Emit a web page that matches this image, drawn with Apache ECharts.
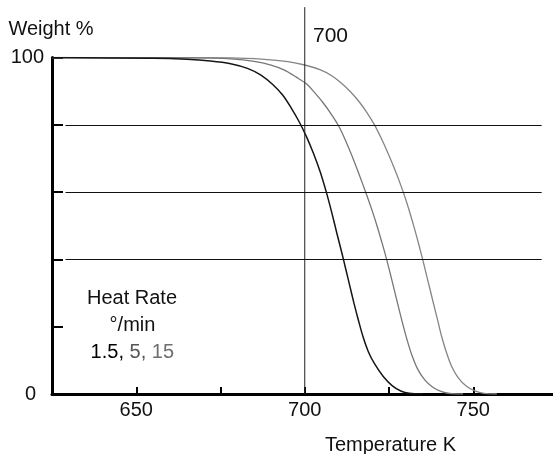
<!DOCTYPE html>
<html><head><meta charset="utf-8">
<script src="https://cdn.jsdelivr.net/npm/echarts@6/dist/echarts.min.js"></script>
<style>html,body{margin:0;padding:0;background:#fff}#c{width:553px;height:454px}</style>
</head><body><div id="c"></div>
<script>
// Heating rates (°/min)
const rateLabels = ['1.5', '5', '15'];
// Curve at 1.5 °/min
const temp1 = [625, 655, 665, 672, 678, 683, 687, 690.5, 693.5, 696, 698.3, 700.5, 702.6, 704.6, 706.4, 708, 709.6, 711, 712.2, 713.4, 714.6, 715.9, 717.3, 718.9, 720.7, 723.3, 726, 728.5, 731, 735];
const weight1 = [100, 99.8, 99.5, 99, 98.2, 96.8, 94.8, 92, 88.8, 85, 81, 76.5, 71.5, 66, 60, 54, 47.5, 42, 37, 32, 27, 22, 17, 12.5, 9, 5.2, 2.4, 0.9, 0.2, 0];
// Curve at 5 °/min
const temp2 = [625, 668, 678, 685, 690, 694, 697.5, 700.5, 703, 705.5, 708, 710, 712, 714, 716, 718, 720, 721.5, 723, 724.2, 725.3, 726.4, 727.6, 728.9, 730.3, 731.8, 733.5, 735.6, 738, 740.4, 743, 747];
const weight2 = [100, 99.9, 99.6, 98.9, 97.8, 96.3, 94.2, 92.2, 89.5, 86.5, 83, 79.8, 75.6, 70.8, 65.6, 60.2, 54.5, 49.8, 44.7, 40.4, 36.1, 31.6, 26.7, 21.5, 16.3, 11.5, 7.4, 4.2, 2, 0.8, 0.15, 0];
// Curve at 15 °/min
const temp3 = [625, 678, 688, 695, 700, 704.5, 708, 711, 713.7, 716.2, 718.5, 720.7, 722.7, 724.7, 726.7, 728.7, 730.4, 731.9, 733.3, 734.6, 735.8, 737, 738.2, 739.4, 740.7, 742.1, 743.6, 745.5, 748, 750.5, 753.2, 757];
const weight3 = [100, 99.9, 99.5, 98.8, 97.8, 96.4, 94.6, 92.3, 89.7, 86.8, 83.6, 80, 76, 71.6, 66.8, 61.5, 56.5, 51.5, 46.5, 41.5, 36.7, 31.8, 26.9, 22.1, 16.8, 12.2, 8.2, 4.9, 2.3, 0.9, 0.2, 0];
// Axis tick labels
const xLabelValues = [650, 700, 750];
const yLabelValues = [0, 100];
const gridValues = [80, 60, 40];
const markerTemp = 700;

const FONT = '"Liberation Sans", Arial, sans-serif';
function zip(a, b) { return a.map((v, i) => [v, b[i]]); }

const chart = echarts.init(document.getElementById('c'), null, { renderer: 'canvas' });
const curveStyle = [
  { color: '#151515', width: 1.5 },
  { color: '#777777', width: 1.3 },
  { color: '#858585', width: 1.3 }
];
const curves = [zip(temp1, weight1), zip(temp2, weight2), zip(temp3, weight3)];

const option = {
  animation: false,
  grid: { left: 52, top: 57.6, width: 505.5, height: 336.4, outerBoundsMode: 'none', containLabel: false },
  xAxis: {
    type: 'value', min: 625, max: 775, interval: 25,
    axisLine: { lineStyle: { color: '#000', width: 3 } },
    axisTick: { inside: true, length: 7, lineStyle: { color: '#000', width: 2 } },
    axisLabel: {
      margin: 6, fontSize: 20, color: '#111', fontFamily: FONT,
      showMinLabel: true, showMaxLabel: true,
      formatter: v => xLabelValues.includes(v) ? String(v) : ''
    },
    splitLine: { show: false }
  },
  yAxis: {
    type: 'value', min: 0, max: 100, interval: 20,
    axisLine: { show: true, lineStyle: { color: '#000', width: 3 } },
    axisTick: { show: true, inside: true, length: 11, lineStyle: { color: '#000', width: 2 } },
    axisLabel: {
      margin: 8, fontSize: 20, color: '#111', fontFamily: FONT,
      showMinLabel: true, showMaxLabel: true,
      formatter: v => v === 0 ? '{z|0}' : (yLabelValues.includes(v) ? String(v) : ''),
      rich: { z: { fontSize: 20, fontFamily: FONT, color: '#111', padding: [0, 8, 0, 0] } }
    },
    splitLine: { show: false }
  },
  series: curves.map((d, i) => ({
    name: rateLabels[i], type: 'line', data: d, showSymbol: false, symbol: 'none',
    smooth: 0.3,
    lineStyle: { color: curveStyle[i].color, width: curveStyle[i].width },
    z: 3 - i
  })).concat([{
    name: 'marker', type: 'line', data: [[markerTemp, 0], [markerTemp, 115]],
    clip: false, showSymbol: false, symbol: 'none', silent: true,
    lineStyle: { color: '#222', width: 1 },
    markLine: {
      silent: true, symbol: ['none', 'none'], label: { show: false },
      lineStyle: { color: '#111', width: 1.2, type: 'solid' },
      data: gridValues.map(v => [{ coord: [629, v] }, { coord: [770.3, v] }])
    }
  }]),
  graphic: [
    { type: 'text', x: 51, y: 29.2, style: { text: 'Weight %', font: '20px ' + FONT, fill: '#111', align: 'center', verticalAlign: 'middle' } },
    { type: 'text', x: 313, y: 36.3, style: { text: String(markerTemp), font: '21px ' + FONT, fill: '#111', align: 'left', verticalAlign: 'middle' } },
    { type: 'text', x: 390.5, y: 445.3, style: { text: 'Temperature K', font: '20px ' + FONT, fill: '#111', align: 'center', verticalAlign: 'middle' } },
    { type: 'text', x: 132, y: 298, style: { text: 'Heat Rate', font: '20px ' + FONT, fill: '#111', align: 'center', verticalAlign: 'middle' } },
    { type: 'text', x: 132.5, y: 325, style: { text: '°/min', font: '20px ' + FONT, fill: '#111', align: 'center', verticalAlign: 'middle' } },
    { type: 'text', x: 132.3, y: 352, style: {
        text: '{a|' + rateLabels[0] + ',} {b|' + rateLabels[1] + ',} {c|' + rateLabels[2] + '}',
        font: '20px ' + FONT, align: 'center', verticalAlign: 'middle',
        rich: {
          a: { fill: '#000', fontSize: 20, fontFamily: FONT },
          b: { fill: '#555', fontSize: 20, fontFamily: FONT },
          c: { fill: '#6e6e6e', fontSize: 20, fontFamily: FONT }
        }
    } }
  ]
};
chart.setOption(option);
</script></body></html>
